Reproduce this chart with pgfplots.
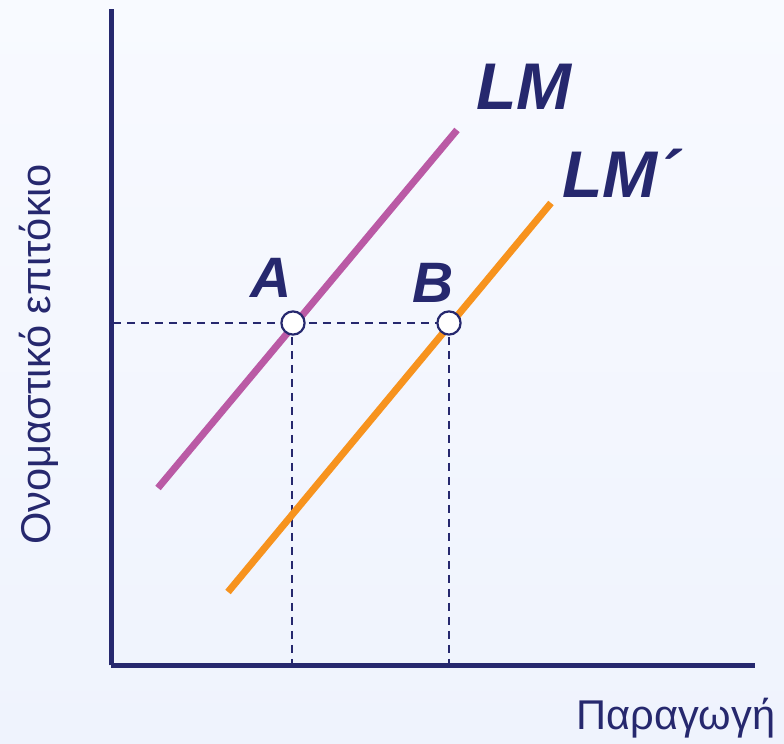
\documentclass[border=0pt]{standalone}
\usepackage{pgfplots}
\pgfplotsset{compat=1.18}
\usepackage{fontspec}
\setmainfont{Liberation Sans}
\definecolor{navy}{RGB}{38,40,110}
\definecolor{lmcol}{RGB}{186,90,165}
\definecolor{lmpcol}{RGB}{247,147,30}
\definecolor{bgtop}{RGB}{248,250,255}
\definecolor{bgbot}{RGB}{239,243,253}
\begin{document}
\begin{tikzpicture}
\shade[top color=bgtop, bottom color=bgbot] (0,0) rectangle (392pt,372pt);
\begin{axis}[
  at={(55.75pt,39.25pt)}, anchor=south west,
  scale only axis, width=321.75pt, height=328.25pt,
  xmin=111.5, xmax=755, ymin=78.5, ymax=735,
  axis lines=left, axis line style={-, line width=2.6pt, navy},
  xtick=\empty, ytick=\empty,
  clip=false, axis on top,
]
% dashed guides
\addplot[navy, line width=1.3pt, dash pattern=on 4pt off 3pt] coordinates {(113,421) (449,421)};
\addplot[navy, line width=1.3pt, dash pattern=on 4pt off 3pt] coordinates {(292,421) (292,78.5)};
\addplot[navy, line width=1.3pt, dash pattern=on 4pt off 3pt] coordinates {(449,421) (449,78.5)};
% LM curves
\addplot[lmcol, line width=3.5pt] coordinates {(158,256) (457,614)};
\addplot[lmpcol, line width=3.5pt] coordinates {(228,152) (551,541)};
% equilibrium points
\addplot[only marks, mark=*, mark size=5.8pt, mark options={fill=white, draw=navy, line width=1.1pt}] coordinates {(293,421) (449,421)};
% labels
\node[anchor=base west, font=\fontsize{33}{36}\selectfont\bfseries\itshape, text=navy, inner sep=0pt] at (axis cs:476,634) {LM};
\node[anchor=base west, font=\fontsize{33}{36}\selectfont\bfseries\itshape, text=navy, inner sep=0pt] at (axis cs:562,546) {LM´};
\node[anchor=base west, font=\fontsize{28.5}{32}\selectfont\bfseries\itshape, text=navy, inner sep=0pt] at (axis cs:250,446) {A};
\node[anchor=base west, font=\fontsize{28.5}{32}\selectfont\bfseries\itshape, text=navy, inner sep=0pt] at (axis cs:412,441) {B};
\node[anchor=base west, font=\fontsize{20.8}{24}\selectfont, text=navy, inner sep=0pt] at (axis cs:576,14) {Παραγωγή};
\node[anchor=base west, rotate=90, font=\fontsize{20.8}{24}\selectfont, text=navy, inner sep=0pt] at (axis cs:51,199) {Ονομαστικό επιτόκιο};
\end{axis}
\end{tikzpicture}
\end{document}
